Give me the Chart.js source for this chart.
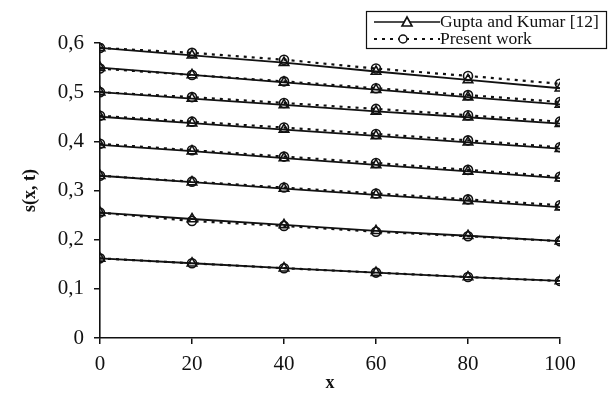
<!DOCTYPE html>
<html>
<head>
<meta charset="utf-8">
<script src="https://cdn.jsdelivr.net/npm/chart.js@4.4.1/dist/chart.umd.min.js"></script>
<style>
	html, body { margin: 0; padding: 0; background: #fff; }
	#wrap { width: 610px; height: 397px; position: relative; }
</style>
</head>
<body>
<div id="wrap"><canvas id="schart" width="610" height="397"></canvas></div>
<script>
const xValues = [0, 20, 40, 60, 80, 100];

// Gupta and Kumar [12], solid lines with triangles (top curve first)
const gupta = [
	[0.590, 0.575, 0.560, 0.542, 0.525, 0.508],
	[0.550, 0.535, 0.520, 0.505, 0.490, 0.475],
	[0.500, 0.487, 0.474, 0.461, 0.449, 0.436],
	[0.450, 0.437, 0.424, 0.411, 0.398, 0.385],
	[0.393, 0.380, 0.366, 0.352, 0.339, 0.325],
	[0.330, 0.317, 0.304, 0.291, 0.279, 0.266],
	[0.255, 0.242, 0.230, 0.218, 0.208, 0.197],
	[0.162, 0.152, 0.142, 0.133, 0.124, 0.116]
];

// Present work, dotted lines with circles
const present = [
	[0.590, 0.580, 0.566, 0.548, 0.533, 0.517],
	[0.548, 0.535, 0.522, 0.508, 0.494, 0.480],
	[0.500, 0.490, 0.478, 0.466, 0.453, 0.440],
	[0.452, 0.440, 0.428, 0.415, 0.402, 0.388],
	[0.395, 0.382, 0.369, 0.356, 0.342, 0.328],
	[0.330, 0.318, 0.306, 0.294, 0.282, 0.270],
	[0.255, 0.238, 0.228, 0.216, 0.207, 0.197],
	[0.162, 0.152, 0.142, 0.133, 0.124, 0.116]
];

const yTicks = [0, 0.1, 0.2, 0.3, 0.4, 0.5, 0.6];

function toPoints(vals) {
	return vals.map((v, i) => ({ x: xValues[i], y: v }));
}

const datasets = [];
gupta.forEach((s) => {
	datasets.push({
		label: "Gupta and Kumar [12]",
		data: toPoints(s),
		borderColor: "#111",
		borderWidth: 1.8,
		pointStyle: "triangle",
		pointRadius: 5.5,
		pointBorderColor: "#111",
		pointBackgroundColor: "rgba(255,255,255,0)",
		pointBorderWidth: 1.6,
		tension: 0
	});
});
present.forEach((s) => {
	datasets.push({
		label: "Present work",
		data: toPoints(s),
		borderColor: "#111",
		borderWidth: 2.2,
		borderDash: [3, 5],
		pointStyle: "circle",
		pointRadius: 4.5,
		pointBorderColor: "#111",
		pointBackgroundColor: "rgba(255,255,255,0)",
		pointBorderWidth: 1.6,
		tension: 0
	});
});

const serif = "'Liberation Serif', 'Times New Roman', serif";

const legendBox = {
	id: "legendBox",
	afterDraw(chart) {
		const ctx = chart.ctx;
		ctx.save();
		ctx.fillStyle = "#fff";
		ctx.fillRect(366.5, 11.5, 240, 37);
		ctx.strokeStyle = "#111";
		ctx.lineWidth = 1.2;
		ctx.strokeRect(366.5, 11.5, 240, 37);

		// solid sample
		ctx.lineWidth = 1.6;
		ctx.beginPath();
		ctx.moveTo(374, 22);
		ctx.lineTo(440, 22);
		ctx.stroke();
		ctx.beginPath();
		ctx.moveTo(407, 17);
		ctx.lineTo(412, 26);
		ctx.lineTo(402, 26);
		ctx.closePath();
		ctx.fillStyle = "#fff";
		ctx.fill();
		ctx.stroke();

		// dotted sample
		ctx.lineWidth = 2;
		ctx.setLineDash([3, 5]);
		ctx.beginPath();
		ctx.moveTo(374, 39);
		ctx.lineTo(440, 39);
		ctx.stroke();
		ctx.setLineDash([]);
		ctx.lineWidth = 1.5;
		ctx.beginPath();
		ctx.arc(403, 39, 4, 0, Math.PI * 2);
		ctx.fill();
		ctx.stroke();

		ctx.fillStyle = "#111";
		ctx.font = "17.5px " + serif;
		ctx.textBaseline = "middle";
		ctx.fillText("Gupta and Kumar [12]", 440, 22);
		ctx.fillText("Present work", 440, 39);
		ctx.restore();
	}
};

new Chart(document.getElementById("schart"), {
	type: "line",
	data: { datasets: datasets },
	options: {
		responsive: false,
		animation: false,
		layout: { padding: { top: 43, right: 50, left: 0, bottom: 0 } },
		plugins: {
			legend: { display: false },
			tooltip: { enabled: false }
		},
		scales: {
			x: {
				type: "linear",
				min: 0,
				max: 100,
				afterFit: (scale) => { scale.height = 59; },
				ticks: {
					stepSize: 20,
					color: "#111",
					font: { family: serif, size: 21 },
					padding: 8
				},
				grid: { drawOnChartArea: false, color: "#111", tickLength: 6, lineWidth: 1.5 },
				border: { color: "#111", width: 1.6 },
				title: {
					display: true,
					text: "x",
					color: "#111",
					font: { family: serif, size: 18, weight: "bold" },
					padding: { top: 0, bottom: 3 }
				}
			},
			y: {
				min: 0,
				max: 0.6,
				afterFit: (scale) => { scale.width = 100; },
				afterBuildTicks: (scale) => { scale.ticks = yTicks.map((v) => ({ value: v })); },
				ticks: {
					color: "#111",
					font: { family: serif, size: 21 },
					padding: 10,
					callback: (v) => (v === 0 ? "0" : v.toFixed(1).replace(".", ","))
				},
				grid: { drawOnChartArea: false, color: "#111", tickLength: 6, lineWidth: 1.5 },
				border: { color: "#111", width: 1.6 },
				title: {
					display: true,
					text: "s(x, t)",
					color: "#111",
					font: { family: serif, size: 18, weight: "bold" },
					padding: { top: 20, bottom: 0 }
				}
			}
		}
	},
	plugins: [legendBox]
});
</script>
</body>
</html>
